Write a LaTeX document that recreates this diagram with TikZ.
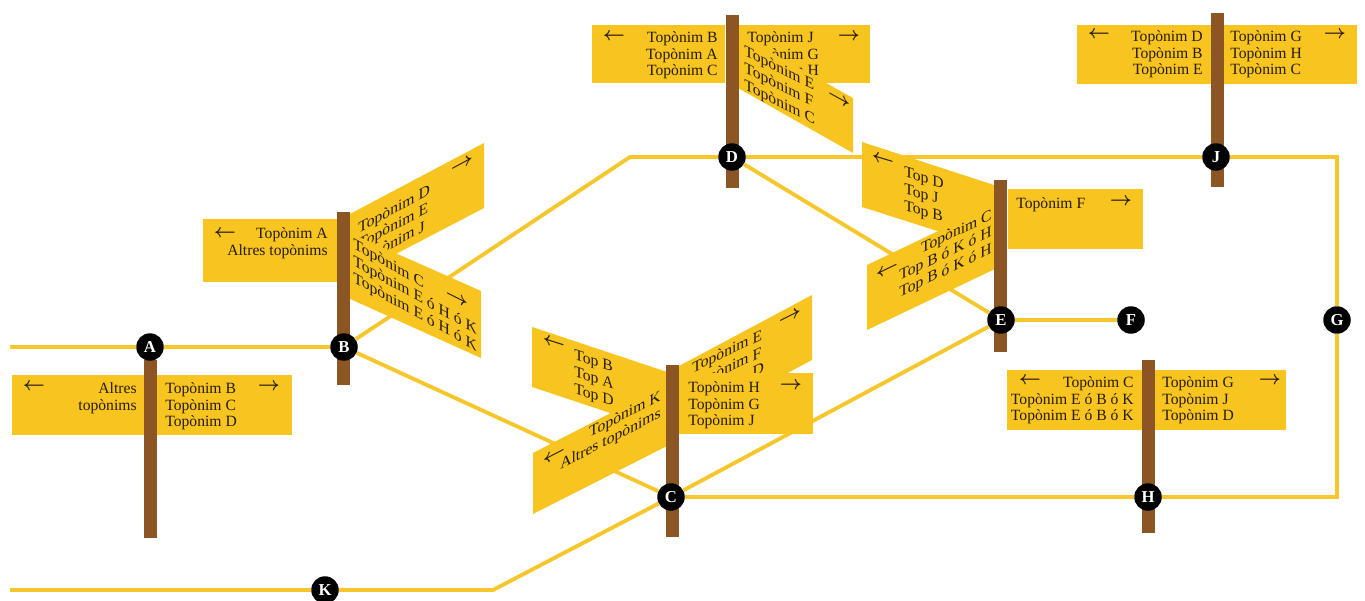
\documentclass[tikz,border=0pt]{standalone}
\usepackage{fontspec}
\setmainfont{Liberation Serif}
\usepackage{tikz}
\definecolor{signyellow}{RGB}{247,196,32}
\definecolor{roadyellow}{RGB}{246,199,45}
\definecolor{postbrown}{RGB}{139,86,36}
\definecolor{signink}{RGB}{40,28,10}
\pgfdeclarelayer{roads}
\pgfdeclarelayer{signs}
\pgfsetlayers{roads,signs,main}
\newcommand{\signfont}{\fontsize{8.9}{9.6}\selectfont}
\newcommand{\signleft}{{\boldmath$\leftarrow$}}
\newcommand{\signright}{{\boldmath$\rightarrow$}}

\begin{document}
\begin{tikzpicture}[x=0.02cm,y=-0.02cm,
 board/.style={fill=signyellow},
 post/.style={fill=postbrown},
 road/.style={draw=roadyellow,line width=2.2pt},
 stop/.style={circle,fill=black,text=white,inner sep=0pt,minimum size=0.55cm,
   font=\fontsize{9.5}{9.5}\selectfont\bfseries},
 signtext/.style={inner sep=0pt,text=signink,font=\signfont},
 arrowglyph/.style={inner sep=0pt,text=signink,font=\fontsize{11}{11}\selectfont}]
 \useasboundingbox (0,0) rectangle (1365,601);
 % stops
 \node[stop] (A) at (150,347) {A};
 \node[stop] (B) at (344,347) {B};
 \node[stop] (C) at (671,497) {C};
 \node[stop] (D) at (732,157) {D};
 \node[stop] (E) at (1001,320) {E};
 \node[stop] (F) at (1131,320) {F};
 \node[stop] (G) at (1337,320) {G};
 \node[stop] (H) at (1148,497) {H};
 \node[stop] (J) at (1216,157) {J};
 \node[stop] (K) at (325,590) {K};

 \begin{pgfonlayer}{roads}
 \coordinate (westA) at (10,347);
 \coordinate (turnBD) at (630,157);
 \coordinate (turnJG) at (1337,157);
 \coordinate (turnGH) at (1337,497);
 \coordinate (westK) at (10,590);
 \coordinate (turnKC) at (493,590);
 \draw[road] (westA) -- (A) -- (B) -- (turnBD) -- (D) -- (J) -- (turnJG)
   -- (G) -- (turnGH) -- (H) -- (C);
 \draw[road] (B) -- (C);
 \draw[road] (D) -- (E);
 \draw[road] (E) -- (F);
 \draw[road] (westK) -- (K) -- (turnKC) -- (C) -- (E);
 \end{pgfonlayer}

 \begin{pgfonlayer}{signs}
 % sign A
 \fill[board] (12,375) rectangle (292,435);
 \node[signtext,anchor=north east,align=right] (Aw) at (137,382) {Altres\\topònims};
 \node[signtext,anchor=north west,align=left] (Ae) at (165,382)
   {Topònim B\\Topònim C\\Topònim D};
 \node[arrowglyph] (Awa) at (34,387) {\signleft};
 \node[arrowglyph] (Aea) at (269,387) {\signright};
 % sign B
 \fill[board] (203,219) rectangle (341,282);
 \node[signtext,anchor=north east,align=right] (Bw) at (328,227)
   {Topònim A\\Altres topònims};
 \node[arrowglyph] (Bwa) at (225,234) {\signleft};
 \fill[board] (348,215) -- (484,143) -- (484,208) -- (348,279) -- cycle;
 \node[signtext,anchor=north west,align=left,yslant=0.54] (Bne) at (358,222)
   {Topònim D\\Topònim E\\Topònim J};
 \node[arrowglyph,yslant=0.54] (Bnea) at (462,165) {\signright};
 \fill[board] (348,232) -- (481,291) -- (481,358) -- (348,298) -- cycle;
 \node[signtext,anchor=north west,align=left,yslant=-0.56] (Bse) at (353,237)
   {Topònim C\\Topònim E ó H ó K\\Topònim E ó H ó K};
 \node[arrowglyph,yslant=-0.5] (Bsea) at (457,299) {\signright};
 % sign C
 \fill[board] (532,327) -- (667,372) -- (667,432) -- (532,387) -- cycle;
 \node[signtext,anchor=north west,align=left,yslant=-0.32] (Cnw) at (574,349)
   {Top B\\Top A\\Top D};
 \node[arrowglyph,yslant=-0.32] (Cnwa) at (554,343) {\signleft};
 \fill[board] (533,453) -- (667,384) -- (667,446) -- (533,514) -- cycle;
 \node[signtext,anchor=north east,align=right,yslant=0.52] (Csw) at (661,389)
   {Topònim K\\Altres topònims};
 \node[arrowglyph,yslant=0.52] (Cswa) at (554,456) {\signleft};
 \fill[board] (679,366) -- (812,295) -- (812,360) -- (679,431) -- cycle;
 \node[signtext,anchor=north west,align=left,yslant=0.48] (Cne) at (692,362)
   {Topònim E\\Topònim F\\Topònim D};
 \node[arrowglyph,yslant=0.5] (Cnea) at (790,317) {\signright};
 \fill[board] (679,373) rectangle (813,434);
 \node[signtext,anchor=north west,align=left] (Ce) at (688,381)
   {Topònim H\\Topònim G\\Topònim J};
 \node[arrowglyph] (Cea) at (791,386) {\signright};
 % sign D
 \fill[board] (592,25) rectangle (725,83);
 \node[signtext,anchor=north east,align=right] (Dw) at (718,31)
   {Topònim B\\Topònim A\\Topònim C};
 \node[arrowglyph] (Dwa) at (614,37) {\signleft};
 \fill[board] (738,25) rectangle (870,83);
 \node[signtext,anchor=north west,align=left] (De) at (747,31)
   {Topònim J\\Topònim G\\Topònim H};
 \node[arrowglyph] (Dea) at (849,37) {\signright};
 \fill[board] (738,34) -- (853,98) -- (853,153) -- (738,88) -- cycle;
 \node[signtext,anchor=north west,align=left,yslant=-0.5] (Dse) at (744,44)
   {Topònim E\\Topònim F\\Topònim C};
 \node[arrowglyph,yslant=-0.55] (Dsea) at (840,100) {\signright};
 % sign E
 \fill[board] (862,142) -- (997,186) -- (997,250) -- (862,207) -- cycle;
 \node[signtext,anchor=north west,align=left,yslant=-0.3] (Enw) at (904,166)
   {Top D\\Top J\\Top B};
 \node[arrowglyph,yslant=-0.3] (Enwa) at (883,160) {\signleft};
 \fill[board] (867,265) -- (997,203) -- (997,268) -- (867,330) -- cycle;
 \node[signtext,anchor=north east,align=right,yslant=0.48] (Esw) at (992,208)
   {Topònim C\\Top B ó K ó H\\Top B ó K ó H};
 \node[arrowglyph,yslant=0.48] (Eswa) at (887,270) {\signleft};
 \fill[board] (1008,189) rectangle (1143,249);
 \node[signtext,anchor=north west,align=left] (Ee) at (1016,197) {Topònim F};
 \node[arrowglyph] (Eea) at (1121,202) {\signright};
 % sign H
 \fill[board] (1007,370) rectangle (1286,430);
 \node[signtext,anchor=north east,align=right] (Hw) at (1134,376)
   {Topònim C\\Topònim E ó B ó K\\Topònim E ó B ó K};
 \node[signtext,anchor=north west,align=left] (He) at (1162,376)
   {Topònim G\\Topònim J\\Topònim D};
 \node[arrowglyph] (Hwa) at (1030,381) {\signleft};
 \node[arrowglyph] (Hea) at (1270,381) {\signright};
 % sign J
 \fill[board] (1077,25) rectangle (1357,84);
 \node[signtext,anchor=north east,align=right] (Jw) at (1203,30)
   {Topònim D\\Topònim B\\Topònim E};
 \node[signtext,anchor=north west,align=left] (Je) at (1230,30)
   {Topònim G\\Topònim H\\Topònim C};
 \node[arrowglyph] (Jwa) at (1099,35) {\signleft};
 \node[arrowglyph] (Jea) at (1335,35) {\signright};
 % posts
 \fill[post] (143.5,360) rectangle (156.5,538);
 \fill[post] (336.5,212) rectangle (349.5,385);
 \fill[post] (665.5,365) rectangle (678.5,537);
 \fill[post] (725.5,15) rectangle (738.5,188);
 \fill[post] (993.5,180) rectangle (1006.5,352);
 \fill[post] (1141.5,360) rectangle (1154.5,533);
 \fill[post] (1210.5,13) rectangle (1223.5,187);
 \end{pgfonlayer}
\end{tikzpicture}
\end{document}
